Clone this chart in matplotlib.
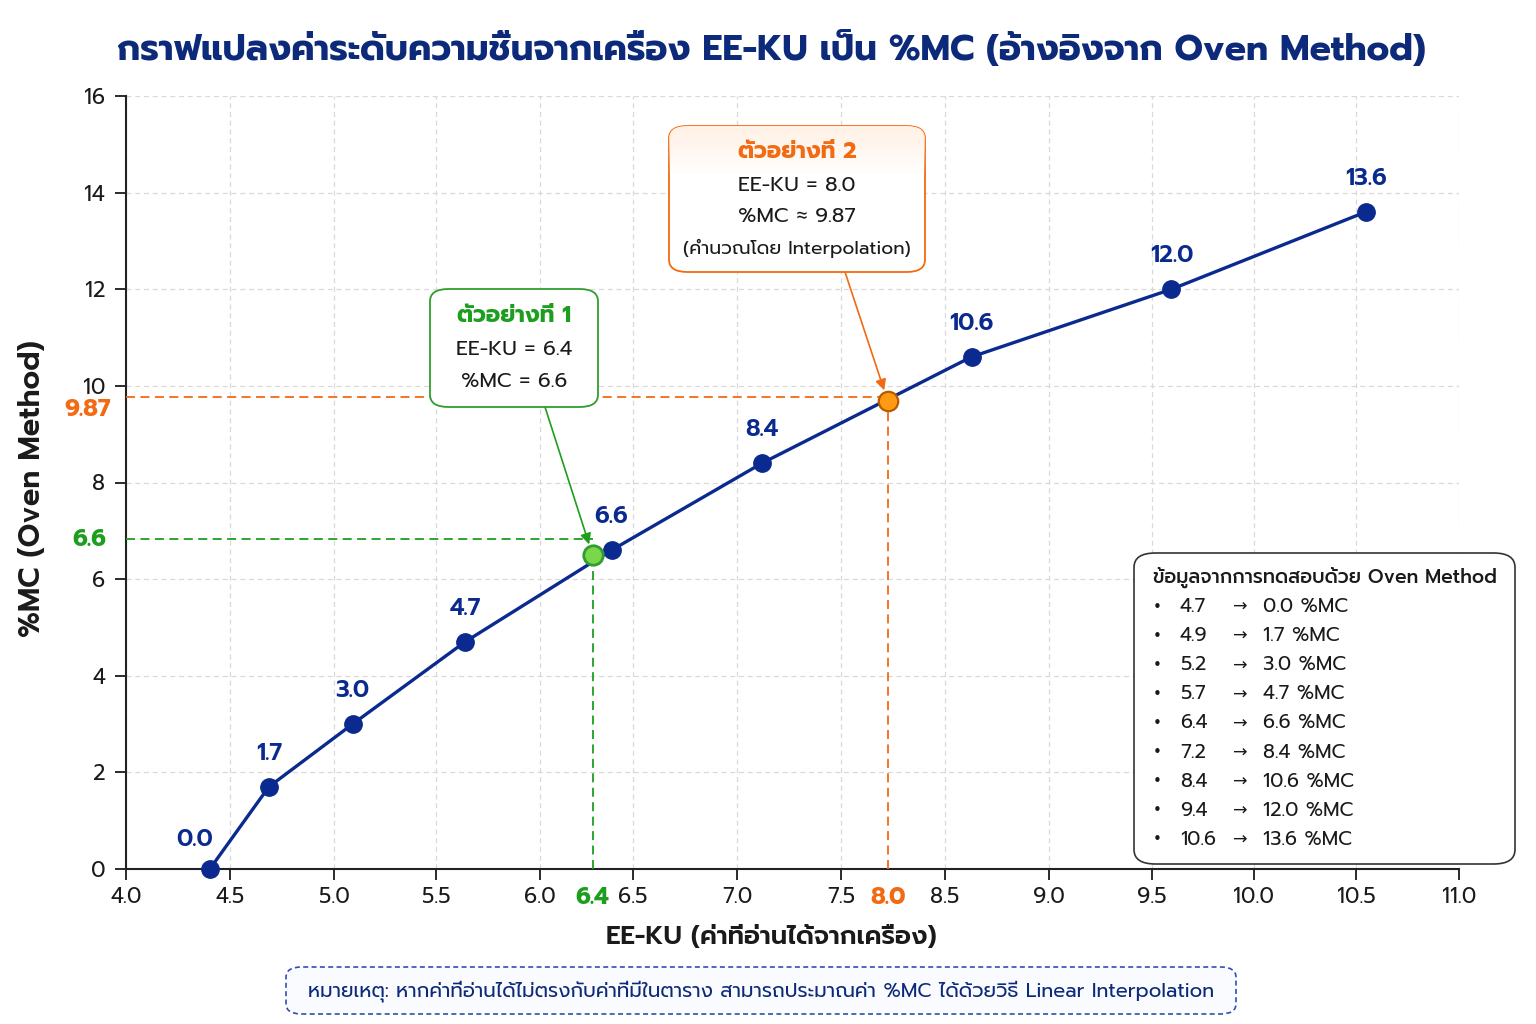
"""
EE-KU reading -> %MC (oven method) conversion chart, with two worked examples.
"""

import matplotlib
matplotlib.use("Agg")
import matplotlib.pyplot as plt
from matplotlib import font_manager
from matplotlib.patches import FancyBboxPatch, Rectangle

# | ================= Data ================= |

# position of each calibration point along the drawn x axis
EE_KU_POS = [4.44, 4.75, 5.19, 5.78, 6.55, 7.34, 8.44, 9.49, 10.51]
MC_VALUES = [0.0, 1.7, 3.0, 4.7, 6.6, 8.4, 10.6, 12.0, 13.6]
POINT_LABELS = ["0.0", "1.7", "3.0", "4.7", "6.6", "8.4", "10.6", "12.0", "13.6"]

# table shown in the side box
TABLE_EE_KU = ["4.7", "4.9", "5.2", "5.7", "6.4", "7.2", "8.4", "9.4", "10.6"]
TABLE_MC = ["0.0", "1.7", "3.0", "4.7", "6.6", "8.4", "10.6", "12.0", "13.6"]

XTICK_POS = [4.0, 4.546, 5.092, 5.628, 6.174, 6.662, 7.208, 7.755,
             8.301, 8.847, 9.388, 9.923, 10.459, 11.0]
XTICK_LABELS = ["4.0", "4.5", "5.0", "5.5", "6.0", "6.5", "7.0", "7.5",
                "8.5", "9.0", "9.5", "10.0", "10.5", "11.0"]
YTICKS = [0, 2, 4, 6, 8, 10, 12, 14, 16]

# worked examples
EX1_X, EX1_Y, EX1_GUIDE_Y = 6.45, 6.50, 6.83
EX1_XLABEL, EX1_YLABEL = "6.4", "6.6"
EX2_X, EX2_Y, EX2_GUIDE_Y = 8.0, 9.69, 9.77
EX2_XLABEL, EX2_YLABEL, EX2_YLABEL_AT = "8.0", "9.87", 9.52

TITLE = "กราฟแปลงค่าระดับความชื้นจากเครื่อง EE-KU เป็น %MC (อ้างอิงจาก Oven Method)"
XLABEL = "EE-KU (ค่าที่อ่านได้จากเครื่อง)"
YLABEL = "%MC (Oven Method)"
NOTE = ("หมายเหตุ: หากค่าที่อ่านได้ไม่ตรงกับค่าที่มีในตาราง "
        "สามารถประมาณค่า %MC ได้ด้วยวิธี Linear Interpolation")
TABLE_TITLE = "ข้อมูลจากการทดสอบด้วย Oven Method"
EX1_LINES = ["ตัวอย่างที่ 1", "EE-KU = 6.4", "%MC = 6.6"]
EX2_LINES = ["ตัวอย่างที่ 2", "EE-KU = 8.0", "%MC ≈ 9.87", "(คำนวณโดย Interpolation)"]

# | ================= Style ================= |

NAVY = "#0b2a8f"
TITLE_NAVY = "#0d2a7a"
GREEN = "#1e9e1e"
GREEN_FILL = "#7ad64a"
GREEN_EDGE = "#2f9e2f"
ORANGE = "#f26a12"
ORANGE_FILL = "#ff9a12"
ORANGE_EDGE = "#b85a00"
TEXT = "#1a1a1a"
GRID = "#d9d9d9"

installed = {f.name for f in font_manager.fontManager.ttflist}
FAMILY = [f for f in ["Prompt", "Kanit", "Noto Sans Thai", "Loma"] if f in installed]
FAMILY += ["DejaVu Sans"]
plt.rcParams["font.family"] = FAMILY

W, H = 1536, 1024


def fx(px):
    return px / W


def fy(py):
    return 1 - py / H


fig = plt.figure(figsize=(W / 100, H / 100), dpi=100)
fig.patch.set_facecolor("white")
ax = fig.add_axes([fx(126), fy(869), fx(1459) - fx(126), fy(96) - fy(869)])

ax.set_xlim(4.0, 11.0)
ax.set_ylim(0, 16)

# | ================= Grid, spines, ticks ================= |

ax.set_xticks(XTICK_POS)
ax.set_xticklabels(XTICK_LABELS)
ax.set_yticks(YTICKS)
ax.set_xticks([EX1_X, EX2_X], minor=True)
ax.set_xticklabels([EX1_XLABEL, EX2_XLABEL], minor=True, fontweight="bold")
for lab, c in zip(ax.get_xticklabels(minor=True), [GREEN, ORANGE]):
    lab.set_color(c)
    lab.set_fontsize(17)
ax.tick_params(axis="x", which="minor", length=0, pad=12)
ax.tick_params(axis="both", which="major", labelsize=15.5, colors=TEXT,
               length=8, width=1.3, direction="out")
ax.tick_params(axis="x", which="major", pad=5)
ax.tick_params(axis="y", which="major", pad=7)

ax.grid(True, which="major", color=GRID, linestyle=(0, (4, 3)), linewidth=0.9)
ax.set_axisbelow(True)
for s in ["top", "right"]:
    ax.spines[s].set_visible(False)
for s in ["left", "bottom"]:
    ax.spines[s].set_color("#222222")
    ax.spines[s].set_linewidth(1.5)

# | ================= Calibration curve ================= |

ax.plot(EE_KU_POS, MC_VALUES, color=NAVY, linewidth=2.4, zorder=4)
ax.plot(EE_KU_POS, MC_VALUES, linestyle="none", marker="o", markersize=12.5,
        markerfacecolor=NAVY, markeredgecolor=NAVY, zorder=5, clip_on=False)
for i, (x, y, lab) in enumerate(zip(EE_KU_POS, MC_VALUES, POINT_LABELS)):
    off = (-11, 21) if i == 0 else (0, 24)
    ax.annotate(lab, xy=(x, y), xytext=off, textcoords="offset points",
                ha="center", va="center", fontsize=17, fontweight="semibold",
                color=NAVY, zorder=6)

# | ================= Example guides ================= |

dash = (0, (5, 3))
ax.plot([4.0, EX1_X], [EX1_GUIDE_Y, EX1_GUIDE_Y], color=GREEN, lw=1.3, ls=dash, zorder=3)
ax.plot([EX1_X, EX1_X], [0, EX1_Y], color=GREEN, lw=1.3, ls=dash, zorder=3)
ax.plot([4.0, EX2_X], [EX2_GUIDE_Y, EX2_GUIDE_Y], color=ORANGE, lw=1.3, ls=dash, zorder=3)
ax.plot([EX2_X, EX2_X], [0, EX2_Y], color=ORANGE, lw=1.3, ls=dash, zorder=3)

ax.plot([EX1_X], [EX1_Y], marker="o", markersize=14, markerfacecolor=GREEN_FILL,
        markeredgecolor=GREEN_EDGE, markeredgewidth=2, zorder=7)
ax.plot([EX2_X], [EX2_Y], marker="o", markersize=14, markerfacecolor=ORANGE_FILL,
        markeredgecolor=ORANGE_EDGE, markeredgewidth=1.6, zorder=7)

ax.annotate(EX1_YLABEL, xy=(0, EX1_GUIDE_Y), xycoords=("axes fraction", "data"),
            xytext=(-14, 0), textcoords="offset points", ha="right", va="center",
            fontsize=17, fontweight="bold", color=GREEN, annotation_clip=False)
ax.annotate(EX2_YLABEL, xy=(0, EX2_YLABEL_AT), xycoords=("axes fraction", "data"),
            xytext=(-11, 0), textcoords="offset points", ha="right", va="center",
            fontsize=17, fontweight="bold", color=ORANGE, annotation_clip=False)

# | ================= Callout boxes ================= |


def callout(x0, y0, x1, y1, edge, tint=None):
    box = FancyBboxPatch((fx(x0), fy(y1)), fx(x1) - fx(x0), fy(y0) - fy(y1),
                         boxstyle="round,pad=0,rounding_size=0.012",
                         transform=fig.transFigure, facecolor="white",
                         edgecolor=edge, linewidth=1.3, zorder=8)
    fig.add_artist(box)
    if tint:
        # soft tinted header fading towards white
        for k in range(12):
            band = Rectangle((fx(x0), fy(y0 + 4 * (k + 1))), fx(x1) - fx(x0),
                             fy(y0 + 4 * k) - fy(y0 + 4 * (k + 1)),
                             transform=fig.transFigure, facecolor=tint,
                             alpha=1 - k / 12, edgecolor="none", zorder=8.5)
            fig.add_artist(band)
            band.set_clip_path(box)
    return box


callout(430, 289, 598, 407, GREEN_EDGE)
fig.text(fx(514), fy(317), EX1_LINES[0], ha="center", va="center", fontsize=16.5,
         fontweight="bold", color=GREEN, zorder=9)
fig.text(fx(514), fy(350), EX1_LINES[1], ha="center", va="center", fontsize=15,
         color=TEXT, zorder=9)
fig.text(fx(514), fy(382), EX1_LINES[2], ha="center", va="center", fontsize=15,
         color=TEXT, zorder=9)

callout(669, 126, 925, 272, ORANGE, tint="#fff1e6")
fig.text(fx(797), fy(153), EX2_LINES[0], ha="center", va="center", fontsize=16.5,
         fontweight="bold", color=ORANGE, zorder=9)
for line, py in zip(EX2_LINES[1:], [186, 217, 248]):
    fig.text(fx(797), fy(py), line, ha="center", va="center",
             fontsize=15 if py < 240 else 13.5, color=TEXT, zorder=9)

ax.annotate("", xy=(EX1_X, EX1_Y), xycoords="data",
            xytext=(fx(545), fy(407)), textcoords="figure fraction",
            arrowprops=dict(arrowstyle="-|>", color=GREEN, lw=1.2,
                            mutation_scale=16, shrinkA=0, shrinkB=8), zorder=9)
ax.annotate("", xy=(EX2_X, EX2_Y), xycoords="data",
            xytext=(fx(845), fy(272)), textcoords="figure fraction",
            arrowprops=dict(arrowstyle="-|>", color=ORANGE, lw=1.2,
                            mutation_scale=16, shrinkA=0, shrinkB=8), zorder=9)

# | ================= Table box ================= |

tbox = FancyBboxPatch((fx(1134), fy(864)), fx(1515) - fx(1134), fy(553) - fy(864),
                      boxstyle="round,pad=0,rounding_size=0.014",
                      transform=fig.transFigure, facecolor="white",
                      edgecolor="#333333", linewidth=1.2, zorder=8)
fig.add_artist(tbox)
fig.text(fx(1153), fy(578), TABLE_TITLE, ha="left", va="center", fontsize=13.8,
         fontweight="medium", color=TEXT, zorder=9)
for i, (e, m) in enumerate(zip(TABLE_EE_KU, TABLE_MC)):
    py = 607 + i * 29.1
    fig.text(fx(1157), fy(py), "•", ha="center", va="center", fontsize=11,
             color=TEXT, zorder=9, family=["DejaVu Sans"])
    fig.text(fx(1180), fy(py), e, ha="left", va="center", fontsize=14.2,
             color=TEXT, zorder=9)
    fig.text(fx(1240), fy(py), "→", ha="center", va="center", fontsize=12.5,
             color=TEXT, zorder=9, family=["DejaVu Sans"])
    fig.text(fx(1263), fy(py), f"{m} %MC", ha="left", va="center", fontsize=14.2,
             color=TEXT, zorder=9)

# | ================= Titles and labels ================= |

fig.text(fx(771), fy(50), TITLE, ha="center", va="center", fontsize=25.5,
         fontweight="bold", color=TITLE_NAVY)
fig.text(fx(771), fy(938), XLABEL, ha="center", va="center", fontsize=18.5,
         fontweight="semibold", color=TEXT)
fig.text(fx(33), fy(489), YLABEL, ha="center", va="center", fontsize=21,
         fontweight="semibold", color=TEXT, rotation=90)

note = FancyBboxPatch((fx(286), fy(1014)), fx(1236) - fx(286), fy(967) - fy(1014),
                      boxstyle="round,pad=0,rounding_size=0.01",
                      transform=fig.transFigure, facecolor="#f9fbff",
                      edgecolor="#2f4fb5", linewidth=1.2, linestyle=(0, (3, 2)))
fig.add_artist(note)
fig.text(fx(761), fy(991), NOTE, ha="center", va="center", fontsize=14.3,
         color=TITLE_NAVY)

fig.savefig("out.png", dpi=100, facecolor="white")
